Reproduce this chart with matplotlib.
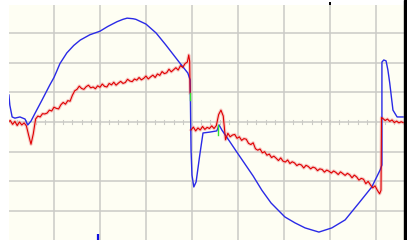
import numpy as np
import matplotlib.pyplot as plt

# time in divisions, level in divisions (scope screen)
blue_t = [0.02, 0.04, 0.09, 0.15, 0.26, 0.37, 0.43, 0.50, 0.59, 0.74, 0.91, 1.00,
          1.07, 1.13, 1.28, 1.43, 1.57, 1.78, 2.00, 2.17, 2.37, 2.50, 2.59, 2.72, 2.78, 3.00,
          3.22, 3.43, 3.72, 3.91, 3.96, 3.98, 4.00, 4.04, 4.09, 4.17, 4.24, 4.39,
          4.54, 4.59, 4.65, 4.80, 4.96, 5.11, 5.33, 5.52, 5.72, 6.02, 6.24, 6.46,
          6.76, 7.04, 7.33, 7.63, 7.91, 8.09, 8.13, 8.13, 8.17, 8.22, 8.26, 8.30,
          8.37, 8.46, 8.59]
blue_v = [0.91, 0.57, 0.17, 0.13, 0.17, 0.10, -0.10, 0.03, 0.30, 0.74, 1.25, 1.50,
          1.75, 1.97, 2.33, 2.58, 2.76, 2.94, 3.06, 3.22, 3.38, 3.46, 3.50, 3.48, 3.46, 3.30,
          3.00, 2.60, 2.02, 1.65, 1.42, -0.94, -1.79, -2.19, -2.02, -1.11, -0.37, -0.34,
          -0.30, -0.10, -0.27, -0.61, -0.98, -1.32, -1.82, -2.30, -2.73, -3.20, -3.40, -3.57,
          -3.71, -3.57, -3.30, -2.73, -2.19, -1.62, -1.45, 2.02, 2.09, 2.06, 1.75, 1.31,
          0.40, 0.17, 0.17]

red_t_a = [0.02, 0.05, 0.10, 0.15, 0.20, 0.25, 0.30, 0.35, 0.40, 0.45, 0.50, 0.55,
           0.60, 0.65, 0.70, 0.75, 0.80, 0.85, 0.90, 0.95, 1.00, 1.05, 1.10, 1.15,
           1.20, 1.25, 1.30, 1.35, 1.40, 1.45, 1.50, 1.55, 1.60, 1.65, 1.70, 1.75,
           1.80, 1.85, 1.90, 1.95, 2.00, 2.05, 2.10, 2.15, 2.20, 2.25, 2.30, 2.35,
           2.40, 2.45, 2.50, 2.55, 2.60, 2.65, 2.70, 2.75, 2.80, 2.85, 2.90, 2.95,
           3.00, 3.05, 3.10, 3.15, 3.20, 3.25, 3.30, 3.35, 3.40, 3.45, 3.50, 3.55,
           3.60, 3.65, 3.70, 3.75, 3.80, 3.85, 3.90, 3.93, 3.95, 3.96]
red_v_a = [0.02, 0.05, -0.08, 0.02, -0.12, 0.00, -0.10, -0.03, -0.13, -0.45, -0.75, -0.40,
           0.10, 0.20, 0.17, 0.28, 0.27, 0.30, 0.40, 0.37, 0.50, 0.46, 0.44, 0.58,
           0.66, 0.60, 0.72, 0.70, 0.90, 1.05, 1.10, 1.21, 1.13, 1.10, 1.19, 1.24,
           1.15, 1.18, 1.12, 1.22, 1.17, 1.28, 1.20, 1.18, 1.30, 1.25, 1.34, 1.24,
           1.31, 1.37, 1.30, 1.33, 1.44, 1.38, 1.36, 1.45, 1.41, 1.50, 1.42, 1.47,
           1.55, 1.45, 1.52, 1.58, 1.50, 1.62, 1.57, 1.70, 1.63, 1.66, 1.78, 1.69,
           1.76, 1.83, 1.75, 1.90, 1.84, 1.97, 2.02, 2.26, 2.05, 0.98]

red_t_b = [3.98, 4.03, 4.08, 4.13, 4.18, 4.23, 4.28, 4.33, 4.38, 4.43, 4.48, 4.53,
           4.58, 4.63, 4.68, 4.73, 4.78, 4.83, 4.88, 4.93, 4.98, 5.03, 5.08, 5.13,
           5.18, 5.23, 5.28, 5.33, 5.38, 5.43, 5.48, 5.53, 5.58, 5.63, 5.68, 5.73,
           5.78, 5.83, 5.88, 5.93, 5.98, 6.03, 6.08, 6.13, 6.18, 6.23, 6.28, 6.33,
           6.38, 6.43, 6.48, 6.53, 6.58, 6.63, 6.68, 6.73, 6.78, 6.83, 6.88, 6.93,
           6.98, 7.03, 7.08, 7.13, 7.18, 7.23, 7.28, 7.33, 7.38, 7.43, 7.48, 7.53,
           7.58, 7.63, 7.68, 7.73, 7.78, 7.83, 7.88, 7.93, 7.98, 8.03, 8.08, 8.11,
           8.12, 8.15, 8.20, 8.25, 8.30, 8.35, 8.40, 8.45, 8.50, 8.55, 8.59]
red_v_b = [-0.27, -0.17, -0.30, -0.20, -0.27, -0.15, -0.25, -0.18, -0.22, -0.13, -0.22, -0.12,
           0.25, 0.40, 0.20, -0.60, -0.38, -0.50, -0.44, -0.42, -0.55, -0.50, -0.62, -0.56,
           -0.58, -0.72, -0.76, -0.70, -0.90, -0.95, -0.91, -1.04, -1.00, -1.12, -1.08, -1.20,
           -1.15, -1.22, -1.30, -1.21, -1.32, -1.35, -1.28, -1.40, -1.34, -1.38, -1.47, -1.42,
           -1.45, -1.55, -1.46, -1.50, -1.58, -1.52, -1.55, -1.64, -1.58, -1.60, -1.69, -1.62,
           -1.66, -1.72, -1.65, -1.70, -1.77, -1.68, -1.74, -1.80, -1.73, -1.78, -1.88, -1.79,
           -1.85, -1.96, -1.90, -1.93, -2.08, -2.00, -2.12, -2.22, -2.15, -2.30, -2.42, -2.30,
           0.15, 0.12, 0.05, 0.10, 0.02, 0.07, -0.02, 0.03, -0.03, 0.01, -0.02]

# short green pieces where the traces switch
green_t = [3.96, 3.96, np.nan, 4.56, 4.56]
green_v = [0.98, 0.74, np.nan, -0.44, -0.10]

cursor_bottom = 1.95
cursor_top = 7.00

fig = plt.figure(figsize=(4.07, 2.40), dpi=100, facecolor="white")
ax = fig.add_axes([9 / 407, 0, 395 / 407, 235 / 240])
ax.set_facecolor("#fefef3")
ax.set_xlim(0.022, 8.61)
ax.set_ylim(-3.977, 3.943)
for s in ax.spines.values():
    s.set_visible(False)
ax.set_xticks([])
ax.set_yticks([])

grid = "#cbcbc6"
for k in range(1, 9):
    ax.axvline(k, color=grid, lw=1.1, zorder=1)
for k in range(-3, 4):
    ax.axhline(k, color=grid, lw=1.1, zorder=1)
for tt in np.arange(0.2, 8.6, 0.2):
    ax.plot([tt, tt], [-0.07, 0.07], color=grid, lw=0.8, zorder=1)

ax.plot(blue_t, blue_v, color="#2a2ae6", lw=1.0, zorder=3)
red_t = red_t_a + [np.nan] + red_t_b
red_v = red_v_a + [np.nan] + red_v_b
ax.plot(red_t, red_v, color="#f2a8a8", lw=2.4, alpha=0.6, zorder=2)
ax.plot(red_t, red_v, color="#e00000", lw=0.8, zorder=4)
ax.plot(green_t, green_v, color="#30e030", lw=1.0, zorder=5)

ax.plot([cursor_bottom, cursor_bottom], [-3.977, -3.77], color="#1010e0", lw=1.6,
        zorder=6, solid_capstyle="butt")
ax.plot([cursor_top, cursor_top], [4.06, 3.94], color="black", lw=1.4,
        clip_on=False, zorder=6, solid_capstyle="butt")

fig.patches.append(plt.Rectangle((404 / 407, 0), 3 / 407, 1, transform=fig.transFigure,
                                 color="black", zorder=10))

fig.savefig("out.png", dpi=100, facecolor="white")
